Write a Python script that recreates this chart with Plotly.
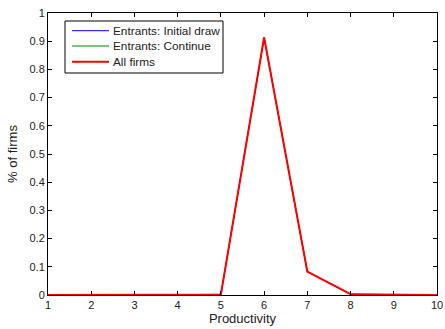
import plotly.graph_objects as go

productivity = [1, 2, 3, 4, 5, 6, 7, 8, 9, 10]
entrants_initial = [0, 0, 0, 0, 0.002, 0.913, 0.083, 0.003, 0.001, 0.0]
entrants_continue = [0, 0, 0, 0, 0.002, 0.913, 0.083, 0.003, 0.001, 0.0]
all_firms = [0, 0, 0, 0, 0.002, 0.913, 0.083, 0.003, 0.001, 0.0]
series_names = ["Entrants: Initial draw", "Entrants: Continue", "All firms"]
y_ticks = [0, 0.1, 0.2, 0.3, 0.4, 0.5, 0.6, 0.7, 0.8, 0.9, 1]
y_tick_labels = ["0", "0.1", "0.2", "0.3", "0.4", "0.5", "0.6", "0.7", "0.8", "0.9", "1"]

colors = ["#0000ff", "#008000", "#ff0000"]
widths = [1, 1, 2]

fig = go.Figure()
for name, ys, c, w in zip(series_names, [entrants_initial, entrants_continue, all_firms], colors, widths):
    fig.add_trace(go.Scatter(x=productivity, y=ys, mode="lines", name=name,
                             line=dict(color=c, width=w), showlegend=False))

# MATLAB-style legend box drawn in paper coordinates
L, R, T, B = 48, 437, 13, 295
def px(x):
    return (x - L) / (R - L)
def py(y):
    return (B - y) / (B - T)

fig.add_shape(type="rect", xref="paper", yref="paper", x0=px(65), x1=px(223), y0=py(73), y1=py(21),
              line=dict(color="black", width=1), fillcolor="white", layer="above")
row_y = [30.7, 46, 61.7]
for name, c, w, ry in zip(series_names, colors, widths, row_y):
    fig.add_shape(type="line", xref="paper", yref="paper", x0=px(72), x1=px(109), y0=py(ry), y1=py(ry),
                  line=dict(color=c, width=w), layer="above")
    fig.add_annotation(text=name, xref="paper", yref="paper", x=px(111), y=py(ry),
                       xanchor="left", yanchor="middle", showarrow=False,
                       font=dict(size=11.8, color="#222"))

axis_common = dict(showline=True, linecolor="black", linewidth=1, mirror="ticks",
                   ticks="inside", ticklen=4, tickcolor="black", showgrid=False,
                   zeroline=False, automargin=False, tickfont=dict(size=11, color="#222"))

fig.update_layout(
    width=445, height=329,
    margin=dict(l=L, r=445 - R, t=T, b=329 - B, autoexpand=False),
    paper_bgcolor="white", plot_bgcolor="white",
    font=dict(family="Liberation Sans, Arial, sans-serif", size=11, color="#222"),
    xaxis=dict(range=[1, 10], tickvals=productivity, title=dict(text="Productivity", standoff=2), **axis_common),
    yaxis=dict(range=[0, 1], tickvals=y_ticks, ticktext=y_tick_labels,
               title=dict(text="% of firms", standoff=8), **axis_common),
    showlegend=False,
)

fig.write_html("out.html")
